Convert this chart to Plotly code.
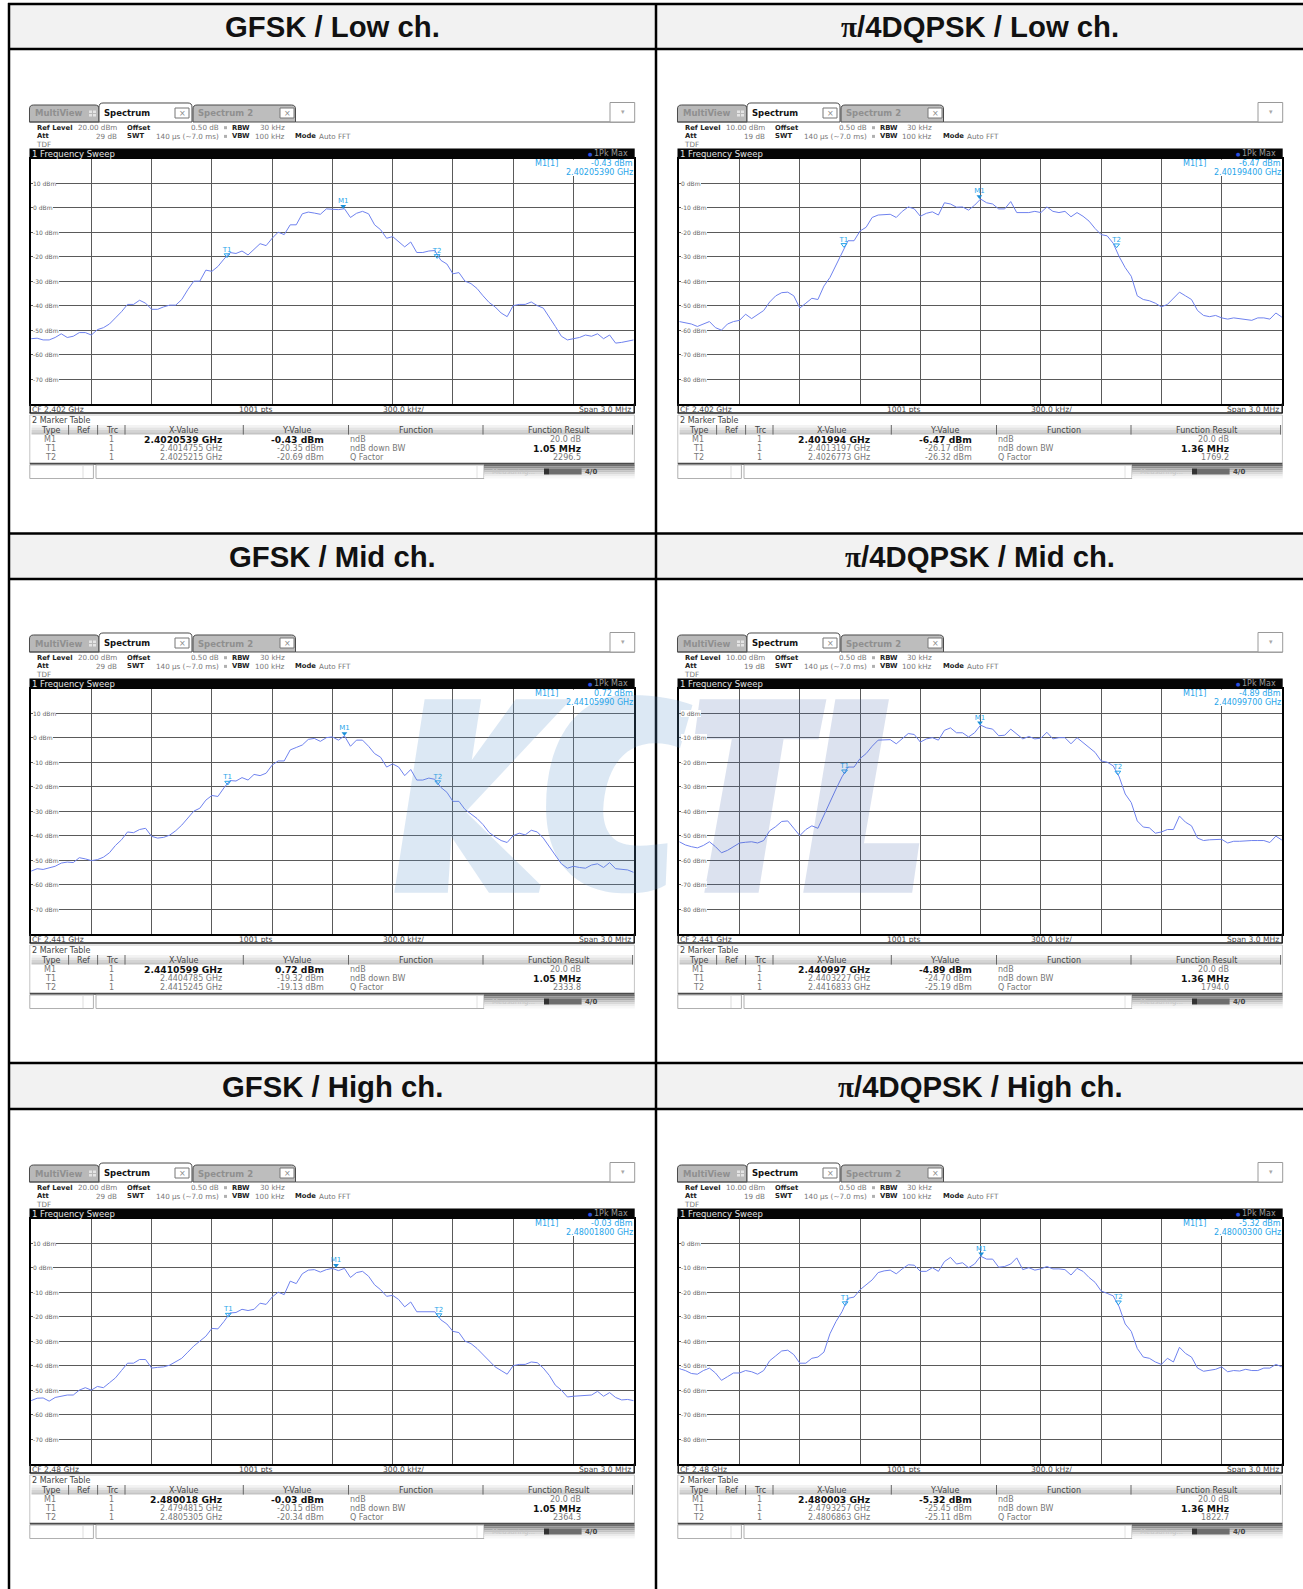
import plotly.graph_objects as go

W, H = 1303, 1589

# ---------- data (dBm, one reading per 0.03 MHz across the 3 MHz span) ----------
OFFSETS_MHZ = [round(-1.5 + 0.03 * i, 2) for i in range(101)]

GFSK_LOW = [-53.5,-53.3,-54,-54,-53,-51.5,-53,-52.5,-51,-51,-52,
 -49.8,-49,-47.5,-45,-42.5,-39.5,-39.5,-37.8,-39,-41.5,
 -41.5,-40.5,-39.8,-39.8,-37.5,-33.5,-30,-30,-25.5,-26,
 -24,-21,-18.3,-18.7,-17.7,-19.3,-17,-14.7,-15.5,-12.5,
 -10,-11,-7,-7,-2.5,-1.8,-2.2,-2.7,-0.5,-0.8,
 -0.8,-0.43,-4,-2.3,-1.5,-2.5,-7,-9,-12.5,-11.8,
 -14,-16,-14,-18.3,-18.3,-17.7,-17.5,-21.5,-23,-27,
 -26.5,-30,-31,-33,-36,-38.7,-40.5,-43,-44.5,-40,
 -39.5,-39.5,-38.5,-40,-41,-44.5,-48.5,-52.5,-54,-53.5,
 -53,-52,-52.5,-51.5,-53.5,-52,-55.3,-55,-54.5,-54]

GFSK_MID = [-54.5,-53.5,-53.8,-53.2,-52.5,-51.2,-50.8,-51,-49,-49.5,-50.2,
 -49.8,-48.8,-47,-44,-41.7,-38.5,-38.8,-37.5,-37,-40.3,
 -41,-40.7,-39.8,-38,-35.7,-33,-30,-28.8,-25.5,-23.6,
 -24,-20.5,-17.5,-17.7,-16.3,-17.3,-15,-15.5,-14.5,-11.2,
 -9.5,-9.5,-5,-4,-3,-0.7,-0.3,-1.5,0,0.3,
 -1,0.72,-3.5,-1,-1,-3.5,-6.5,-8,-12,-10.7,
 -12,-15.5,-13,-17.3,-17.3,-16.5,-17,-20.3,-22.3,-26,
 -26,-29.3,-31,-33,-35.5,-38.7,-40.5,-42,-42.8,-40,
 -39,-39.7,-37.8,-38.5,-41,-44.5,-48.5,-51.5,-53.3,-52.5,
 -53,-53.3,-52,-51.5,-53,-51,-53.5,-53.8,-54,-55]

GFSK_HIGH = [-54.3,-53.3,-53.2,-54.5,-53,-52.5,-52,-52,-50,-49,-50,
 -48.5,-49,-47,-45,-42,-39,-39,-37.5,-37.5,-41,
 -40.7,-40.5,-39.8,-38.5,-37,-34.5,-32,-30,-28,-24.8,
 -25,-22,-18.5,-18.3,-17,-17.5,-17,-14.5,-15,-12,
 -10,-11,-5.5,-6.5,-2.5,-1,-0.8,-1.8,-0.8,-0.3,
 -1.2,-0.3,-4,-2,-1.5,-3.5,-7,-9,-11.7,-11.3,
 -13,-16,-14,-18,-18,-17.7,-18,-21.3,-23,-26,
 -26.5,-30,-31,-33,-35.5,-38,-40.5,-42,-43.5,-40,
 -39.5,-39.5,-38.5,-38.8,-41,-44,-48,-50,-52.8,-52.5,
 -52.3,-52,-52,-50.5,-52.5,-51,-53,-54,-53.8,-54.3]

DQPSK_LOW = [-56.5,-57,-57.5,-58.5,-57.5,-56.5,-59,-60,-57.5,-56.5,-56,
 -53.5,-55.3,-53.5,-52,-48.5,-46,-44.7,-44.5,-46,-51,
 -49,-47,-47.5,-42,-38.5,-33.5,-28,-23.5,-23.5,-19.5,
 -18,-14,-13,-12.7,-12.7,-14,-11.5,-9.7,-10.5,-13.5,
 -12.3,-11.7,-13,-8,-8.5,-9.8,-9.7,-11,-9,-6.47,
 -8,-8.5,-10.5,-10.5,-7.5,-12,-12,-12,-11.5,-12,
 -9.7,-11.5,-12,-11.5,-13.7,-12,-13.5,-15.5,-18.5,-21,
 -21.5,-24.5,-30,-34.5,-38,-46,-47.5,-48,-49,-50.5,
 -49.5,-47,-44.5,-46,-47.5,-52,-54,-54.5,-54,-55,
 -55.5,-55,-55.3,-55.5,-56,-55,-55,-55.5,-53,-54.7]

DQPSK_MID = [-52.5,-53.8,-54.5,-55,-54,-52.5,-54.5,-57,-56,-54.5,-53,
 -52.7,-52.5,-53,-52,-48,-46.3,-44.2,-44,-47,-50,
 -47.5,-46,-47,-41.5,-36,-31,-26,-22,-22,-18.5,
 -16.5,-13.5,-11,-11,-10.8,-12.5,-10.3,-8.3,-8.7,-11.8,
 -10.5,-10,-11,-7,-6,-8,-8,-9.7,-8,-4.89,
 -6,-6.5,-9.2,-9,-6.5,-8.5,-10.5,-9.5,-10.5,-10.2,
 -7.8,-10.5,-10,-10,-12.5,-10,-12,-14,-16,-19.5,
 -20,-21.5,-26,-33,-36.5,-44,-46.5,-46.8,-49,-48.5,
 -47.5,-47.5,-42,-44.5,-46,-51,-52,-51.7,-51.5,-51.5,
 -53,-52.3,-52.3,-52,-52,-52,-52,-52.8,-50.2,-51.8]

DQPSK_HIGH = [-51.2,-52,-53.2,-53.5,-52,-51,-53,-56,-54.5,-53,-53,
 -52,-52.5,-53.5,-52,-48,-46,-44,-43.7,-45.5,-49,
 -49,-47,-46.5,-44.5,-37,-32,-28,-22.5,-22,-19,
 -17,-15,-12,-11.3,-11,-12.5,-10.5,-8.8,-9,-11.5,
 -11.5,-10,-11.5,-7.5,-5.8,-8.5,-8,-10,-8.5,-5.32,
 -6.5,-6.5,-9.8,-9.5,-8.5,-6,-10.8,-10,-11,-10.5,
 -9.5,-10.5,-10.5,-10.8,-13,-10.3,-11.5,-14,-16,-19.5,
 -20.5,-21.5,-26,-33,-36,-43,-46.5,-47,-48.5,-49.5,
 -47,-48.5,-42.5,-45,-46.5,-51,-52.3,-52,-51.5,-50.5,
 -52.5,-52,-52.2,-51.5,-52,-52,-51,-51,-49.5,-50.5]

TITLES = ["GFSK / Low ch.", "π/4DQPSK / Low ch.", "GFSK / Mid ch.",
          "π/4DQPSK / Mid ch.", "GFSK / High ch.", "π/4DQPSK / High ch."]
SERIES = [GFSK_LOW, DQPSK_LOW, GFSK_MID, DQPSK_MID, GFSK_HIGH, DQPSK_HIGH]
CENTER_GHZ = [2.402, 2.402, 2.441, 2.441, 2.48, 2.48]
CF_LABELS = ["CF 2.402 GHz", "CF 2.402 GHz", "CF 2.441 GHz", "CF 2.441 GHz", "CF 2.48 GHz", "CF 2.48 GHz"]
REF_LEVEL = [20, 10, 20, 10, 20, 10]
REF_TEXT = ["20.00 dBm", "10.00 dBm", "20.00 dBm", "10.00 dBm", "20.00 dBm", "10.00 dBm"]
ATT_TEXT = ["29 dB", "19 dB", "29 dB", "19 dB", "29 dB", "19 dB"]
M1_READOUT_FREQ = ["2.40205390 GHz", "2.40199400 GHz", "2.44105990 GHz",
                   "2.44099700 GHz", "2.48001800 GHz", "2.48000300 GHz"]
M1_TABLE_FREQ = ["2.4020539 GHz", "2.401994 GHz", "2.4410599 GHz",
                 "2.440997 GHz", "2.480018 GHz", "2.480003 GHz"]
M1_LEVEL = [-0.43, -6.47, 0.72, -4.89, -0.03, -5.32]
T1_FREQ = [2.4014755, 2.4013197, 2.4404785, 2.4403227, 2.4794815, 2.4793257]
T1_LEVEL = [-20.35, -26.17, -19.32, -24.70, -20.15, -25.45]
T2_FREQ = [2.4025215, 2.4026773, 2.4415245, 2.4416833, 2.4805305, 2.4806863]
T2_LEVEL = [-20.69, -26.32, -19.13, -25.19, -20.34, -25.11]
M1_FREQ = [2.4020539, 2.401994, 2.4410599, 2.440997, 2.480018, 2.480003]
BANDWIDTH = ["1.05 MHz", "1.36 MHz", "1.05 MHz", "1.36 MHz", "1.05 MHz", "1.36 MHz"]
Q_FACTOR = ["2296.5", "1769.2", "2333.8", "1794.0", "2364.3", "1822.7"]

# ---------- helpers ----------
shapes, annots = [], []
fx = lambda x: x / W
fy = lambda y: 1 - y / H
SANS = "DejaVu Sans"

def rect(x0, y0, x1, y1, fill=None, line=None, lw=1, layer="above"):
    shapes.append(dict(type="rect", xref="paper", yref="paper", x0=fx(x0), x1=fx(x1), y0=fy(y0), y1=fy(y1),
                       fillcolor=fill or "rgba(0,0,0,0)", line=dict(color=line or "rgba(0,0,0,0)", width=lw if line else 0), layer=layer))

def hline(x0, x1, y, color, lw=1):
    shapes.append(dict(type="line", xref="paper", yref="paper", x0=fx(x0), x1=fx(x1), y0=fy(y), y1=fy(y),
                       line=dict(color=color, width=lw), layer="above"))

def vline(x, y0, y1, color, lw=1):
    shapes.append(dict(type="line", xref="paper", yref="paper", x0=fx(x), x1=fx(x), y0=fy(y0), y1=fy(y1),
                       line=dict(color=color, width=lw), layer="above"))

def poly(cmds, fill, line=None, lw=1):
    parts = []
    for c in cmds:
        parts.append(c[0] + " " + " ".join(f"{fx(c[i]):.5f},{fy(c[i+1]):.5f}" for i in range(1, len(c), 2)))
    shapes.append(dict(type="path", xref="paper", yref="paper", path=" ".join(parts) + " Z", fillcolor=fill,
                       line=dict(color=line or "rgba(0,0,0,0)", width=lw if line else 0), layer="above"))

def text(x, y, s, size=8, color="#6a6a6a", anchor="left", bold=False, family=SANS, bg=None):
    annots.append(dict(xref="paper", yref="paper", x=fx(x), y=fy(y), text=f"<b>{s}</b>" if bold else s,
                       showarrow=False, xanchor=anchor, yanchor="middle", borderpad=0, borderwidth=0,
                       bgcolor=bg or "rgba(0,0,0,0)",
                       font=dict(size=size, color=color, family=family)))

# ---------- table frame ----------
ROW_TOP = [4, 533.5, 1063]
HEAD_BOTTOM = [49, 579, 1109]
for top, bottom in zip(ROW_TOP, HEAD_BOTTOM):
    rect(9, top, W, bottom, fill="#f2f2f2", layer="below")
    hline(8, W, top, "#000000", 2.5)
    hline(8, W, bottom, "#000000", 2.5)
vline(9, 3, H, "#000000", 2.5)
vline(656, 3, H, "#000000", 2.5)

CYAN = "#28a5ea"
TRACE_BLUE = "#6f82ee"
LEFT = [31.1, 679.3]
traces = []
layout_axes = {}

for n in range(6):
    col = n % 2
    row = n // 2
    dx = 0 if col == 0 else 648
    dy = 530 * row
    X = lambda v: v + dx
    Y = lambda v: v + dy
    cx = 332.5 if col == 0 else 980
    ttl = TITLES[n]
    if ttl.startswith("π"):
        ttl = '<span style="font-family:Liberation Serif">π</span>' + ttl[1:]
    text(cx, 26.7 + [0, 530, 1060][row], ttl, size=29.3, color="#111111", anchor="center", bold=True, family="Liberation Sans")

    # ---- tabs ----
    def tab(x0, x1, top, fill):
        poly([("M", X(x0), Y(122)), ("L", X(x0), Y(top + 4)), ("Q", X(x0), Y(top), X(x0 + 4), Y(top)),
              ("L", X(x1 - 4), Y(top)), ("Q", X(x1), Y(top), X(x1), Y(top + 4)), ("L", X(x1), Y(122))],
             fill, "#4a4a4a", 1)
    tab(29.5, 99, 105, "#b9b9b9")
    tab(193, 295.5, 105, "#bdbdbd")
    tab(99, 192, 103, "#ffffff")
    hline(X(295.5), X(634.7), Y(122), "#555555", 1.2)
    hline(X(29.5), X(99), Y(122), "#555555", 1.2)
    text(X(34.5), Y(113.5), "MultiView", 8.5, "#8f8f8f", bold=True)
    text(X(103.5), Y(113), "Spectrum", 8.5, "#111111", bold=True)
    text(X(198), Y(113.5), "Spectrum 2", 8.5, "#8f8f8f", bold=True)
    rect(X(89), Y(110.5), X(92), Y(113), "#e4e4e4"); rect(X(93), Y(110.5), X(96), Y(113), "#e4e4e4")
    rect(X(89), Y(114), X(92), Y(116.5), "#e4e4e4"); rect(X(93), Y(114), X(96), Y(116.5), "#e4e4e4")
    for bx in (175, 280):
        rect(X(bx), Y(108), X(bx + 14), Y(118), "#ffffff", "#777777", 1)
        text(X(bx + 7), Y(113), "×", 8, "#8a8a8a", "center")
    rect(X(610), Y(102.5), X(634.7), Y(122), "#ffffff", "#9a9a9a", 1)
    text(X(622.5), Y(112), "▾", 7, "#a8a8a8", "center")

    # ---- settings lines ----
    rows = [127.7, 136.4, 144.7]
    BS, RS = 6.8, 7.2
    text(X(37), Y(rows[0]), "Ref Level", BS, "#222222", bold=True)
    text(X(116.5), Y(rows[0]), REF_TEXT[n], RS, "#777777", "right")
    text(X(127), Y(rows[0]), "Offset", BS, "#222222", bold=True)
    text(X(219), Y(rows[0]), "0.50 dB", RS, "#777777", "right")
    rect(X(224), Y(126.2), X(227), Y(129.2), "#b0b0b0")
    text(X(232), Y(rows[0]), "RBW", BS, "#222222", bold=True)
    text(X(284.5), Y(rows[0]), "30 kHz", RS, "#777777", "right")
    text(X(37), Y(rows[1]), "Att", BS, "#222222", bold=True)
    text(X(116.5), Y(rows[1]), ATT_TEXT[n], RS, "#777777", "right")
    text(X(127), Y(rows[1]), "SWT", BS, "#222222", bold=True)
    text(X(219), Y(rows[1]), "140 µs (~7.0 ms)", RS, "#777777", "right")
    rect(X(224), Y(134.9), X(227), Y(137.9), "#b0b0b0")
    text(X(232), Y(rows[1]), "VBW", BS, "#222222", bold=True)
    text(X(284.5), Y(rows[1]), "100 kHz", RS, "#777777", "right")
    text(X(294.6), Y(rows[1]), "Mode", BS, "#222222", bold=True)
    text(X(318.6), Y(rows[1]), "Auto FFT", RS, "#777777")
    text(X(36), Y(rows[2]), "TDF", RS, "#777777")

    # ---- black bar ----
    rect(X(29.5), Y(148.5), X(634.7), Y(158.7), "#050505")
    text(X(32), Y(153.5), "1 Frequency Sweep", 8.5, "#e6e6e6")
    text(X(590), Y(153.5), "●", 5, "#2a4fe0", "center")
    text(X(594), Y(153.5), "1Pk Max", 8, "#9a9a9a")

    # ---- spectrum plot ----
    suffix = "" if n == 0 else str(n + 1)
    cf = CENTER_GHZ[n]
    ref = REF_LEVEL[n]
    pl, pr = LEFT[col], LEFT[col] + 602.6
    pt, pb = Y(158.7), Y(403.6)
    grid = dict(showgrid=True, gridcolor="#5a5a5a", gridwidth=1, zeroline=False, showticklabels=False,
                ticks="", showline=True, linecolor="#000000", linewidth=1.5, mirror=True, fixedrange=True)
    layout_axes["xaxis" + suffix] = dict(domain=[fx(pl), fx(pr)], range=[cf - 0.0015, cf + 0.0015],
                                         tick0=cf - 0.0015, dtick=0.0003, anchor="y" + suffix, **grid)
    layout_axes["yaxis" + suffix] = dict(domain=[fy(pb), fy(pt)], range=[ref - 100, ref],
                                         tick0=ref - 100, dtick=10, anchor="x" + suffix, **grid)
    traces.append(go.Scatter(x=[cf + o / 1000 for o in OFFSETS_MHZ], y=SERIES[n], mode="lines",
                             line=dict(color=TRACE_BLUE, width=1), xaxis="x" + suffix, yaxis="y" + suffix,
                             showlegend=False, hoverinfo="skip"))
    # markers: the triangle's tip rests on the level, the name sits just above it
    traces.append(go.Scatter(x=[M1_FREQ[n]], y=[M1_LEVEL[n] + 1.0], mode="markers",
                             marker=dict(symbol="triangle-down", size=5, color="#1b8fd8"),
                             xaxis="x" + suffix, yaxis="y" + suffix, showlegend=False, hoverinfo="skip"))
    traces.append(go.Scatter(x=[T1_FREQ[n], T2_FREQ[n]], y=[T1_LEVEL[n] + 1.0, T2_LEVEL[n] + 1.0],
                             mode="markers",
                             marker=dict(symbol="triangle-down-open", size=5, color=CYAN, line=dict(width=1, color=CYAN)),
                             xaxis="x" + suffix, yaxis="y" + suffix, showlegend=False, hoverinfo="skip"))
    traces.append(go.Scatter(x=[M1_FREQ[n], T1_FREQ[n], T2_FREQ[n]],
                             y=[M1_LEVEL[n] + 3.0, T1_LEVEL[n] + 3.0, T2_LEVEL[n] + 3.0],
                             mode="text", text=["M1", "T1", "T2"], textposition="middle center",
                             textfont=dict(size=7, color=CYAN, family=SANS),
                             xaxis="x" + suffix, yaxis="y" + suffix, showlegend=False, hoverinfo="skip"))
    # level labels
    for lv in range(ref - 10, ref - 100, -10):
        annots.append(dict(xref="paper", yref="y" + suffix, x=fx(pl + 2), y=lv, text=f"{lv} dBm", showarrow=False,
                           xanchor="left", yanchor="middle", bgcolor="#ffffff", borderpad=0, borderwidth=0,
                           font=dict(size=6, color="#666666", family=SANS)))
    # readout
    rect(X(565), pt + 1, X(632.7), Y(176), "#ffffff")
    text(X(535.4), Y(163.6), "M1[1]", 8, CYAN)
    text(X(633), Y(163.6), f"{M1_LEVEL[n]:.2f} dBm", 8, CYAN, "right")
    text(X(633), Y(172.6), M1_READOUT_FREQ[n], 8, CYAN, "right")

    # ---- footer line ----
    hline(X(29.5), X(634.7), Y(413), "#1a1a1a", 1.5)
    vline(X(30.2), Y(403.6), Y(413), "#1a1a1a", 1.5)
    vline(X(634.2), Y(403.6), Y(413), "#1a1a1a", 1.5)
    FOOT_Y = 409.4
    text(X(32), Y(FOOT_Y), CF_LABELS[n], 7.6, "#444444")
    text(X(239), Y(FOOT_Y), "1001 pts", 7.6, "#444444")
    text(X(383), Y(FOOT_Y), "300.0 kHz/", 7.6, "#444444")
    text(X(631.3), Y(FOOT_Y), "Span 3.0 MHz", 7.6, "#444444", "right")

    # ---- marker table ----
    rect(X(29.8), Y(415), X(634.4), Y(463.5), "#ffffff", "#c4c4c4", 1)
    text(X(32), Y(420.5), "2 Marker Table", 8, "#444444")
    for i, shade in enumerate(["#f3f3f3", "#e4e4e4", "#d4d4d4", "#c4c4c4"]):
        rect(X(31.5), Y(425 + i * 2.4), X(632.6), Y(425 + (i + 1) * 2.4), shade)
    for sx in (68.6, 97.6, 125, 243.3, 348.5, 483, 632.6):
        vline(X(sx), Y(425), Y(434.6), "#666666", 1)
    for cxx, s in [(50.5, "Type"), (83.3, "Ref"), (111.5, "Trc"), (184, "X-Value"), (296, "Y-Value"),
                   (416, "Function"), (558, "Function Result")]:
        text(X(cxx), Y(430), s, 8, "#444444", "center")
    tbl_y = [439.4, 448.5, 457.3]
    names = ["M1", "T1", "T2"]
    freqs = [M1_TABLE_FREQ[n], f"{T1_FREQ[n]:.7f} GHz", f"{T2_FREQ[n]:.7f} GHz"]
    levels = [M1_LEVEL[n], T1_LEVEL[n], T2_LEVEL[n]]
    funcs = ["ndB", "ndB down BW", "Q Factor"]
    results = ["20.0 dB", BANDWIDTH[n], Q_FACTOR[n]]
    for i in range(3):
        text(X(50), Y(tbl_y[i]), names[i], 8, "#777777", "center")
        text(X(111), Y(tbl_y[i]), "1", 8, "#777777", "center")
        b = i == 0
        text(X(222), Y(tbl_y[i]), freqs[i], 9.2 if b else 8, "#111111" if b else "#777777", "right", bold=b)
        text(X(324), Y(tbl_y[i]), f"{levels[i]:.2f} dBm", 9.2 if b else 8, "#111111" if b else "#777777", "right", bold=b)
        text(X(350), Y(tbl_y[i]), funcs[i], 8, "#777777")
        b2 = i == 1
        text(X(581), Y(tbl_y[i]), results[i], 9.2 if b2 else 8, "#111111" if b2 else "#777777", "right", bold=b2)
    hline(X(29.8), X(634.4), Y(463.8), "#4a4a4a", 2)

    # ---- status bar ----
    rect(X(29.8), Y(465), X(93.4), Y(478.5), "#ffffff", "#b0b0b0", 1)
    vline(X(83), Y(466), Y(478), "#dddddd", 1)
    rect(X(96), Y(465), X(484), Y(478.5), "#ffffff", "#b0b0b0", 1)
    vline(X(477), Y(466), Y(478), "#e2e2e2", 1)
    for i, shade in enumerate(["#6e6e6e", "#8d8d8d", "#a9a9a9", "#c2c2c2", "#d8d8d8", "#ebebeb", "#f7f7f7"]):
        rect(X(484), Y(464.5 + i * 2), X(634.7), Y(464.5 + (i + 1) * 2), shade)
    text(X(492), Y(471.5), "Measuring...", 7, "#c6c6c6")
    rect(X(544), Y(468.5), X(549), Y(474.5), "#333333")
    rect(X(549), Y(468.5), X(581.6), Y(474.5), "#6e6e6e")
    text(X(585), Y(471.5), "4/0", 7, "#444444", bold=True)

# ---------- watermark, traced in the reference's zoom coordinates ----------
zx = lambda v: 380 + v / 2.8
zy = lambda v: 680 + v / 3

def mark(points, color):
    cmds = []
    for i, p in enumerate(points):
        if len(p) == 2:
            cmds.append(("M" if i == 0 else "L", zx(p[0]), zy(p[1])))
        else:
            cmds.append(("C", zx(p[0]), zy(p[1]), zx(p[2]), zy(p[3]), zx(p[4]), zy(p[5])))
    poly(cmds, color)

mark([(125, 58), (283, 58), (257, 240), (380, 58), (535, 58), (240, 395), (450, 615), (445, 638), (305, 638),
      (200, 470), (190, 638), (40, 638)], "rgba(95,150,205,0.22)")
mark([(875, 75), (800, 45, 720, 45, 690, 45), (560, 45, 465, 170, 465, 380), (465, 560, 560, 640, 690, 640),
      (730, 640, 770, 635, 800, 615), (805, 490), (770, 495, 730, 500, 700, 495), (650, 490, 625, 450, 625, 390),
      (630, 270, 680, 190, 770, 190), (795, 190, 820, 195, 840, 205)], "rgba(95,150,205,0.22)")
mark([(895, 58), (1250, 58), (1228, 178), (1130, 178), (1060, 638), (908, 638), (985, 178), (880, 178)],
     "rgba(70,100,170,0.19)")
mark([(1275, 58), (1425, 58), (1355, 490), (1510, 490), (1490, 638), (1185, 638)], "rgba(70,100,170,0.19)")

fig = go.Figure(traces)
fig.update_layout(width=W, height=H, margin=dict(l=0, r=0, t=0, b=0), autosize=False,
                  paper_bgcolor="#ffffff", plot_bgcolor="#ffffff", showlegend=False,
                  shapes=shapes, annotations=annots, **layout_axes)
fig.write_html("out.html", include_plotlyjs=True, config=dict(displayModeBar=False),
               post_script="document.body.style.margin='0';document.body.style.overflow='hidden';")
